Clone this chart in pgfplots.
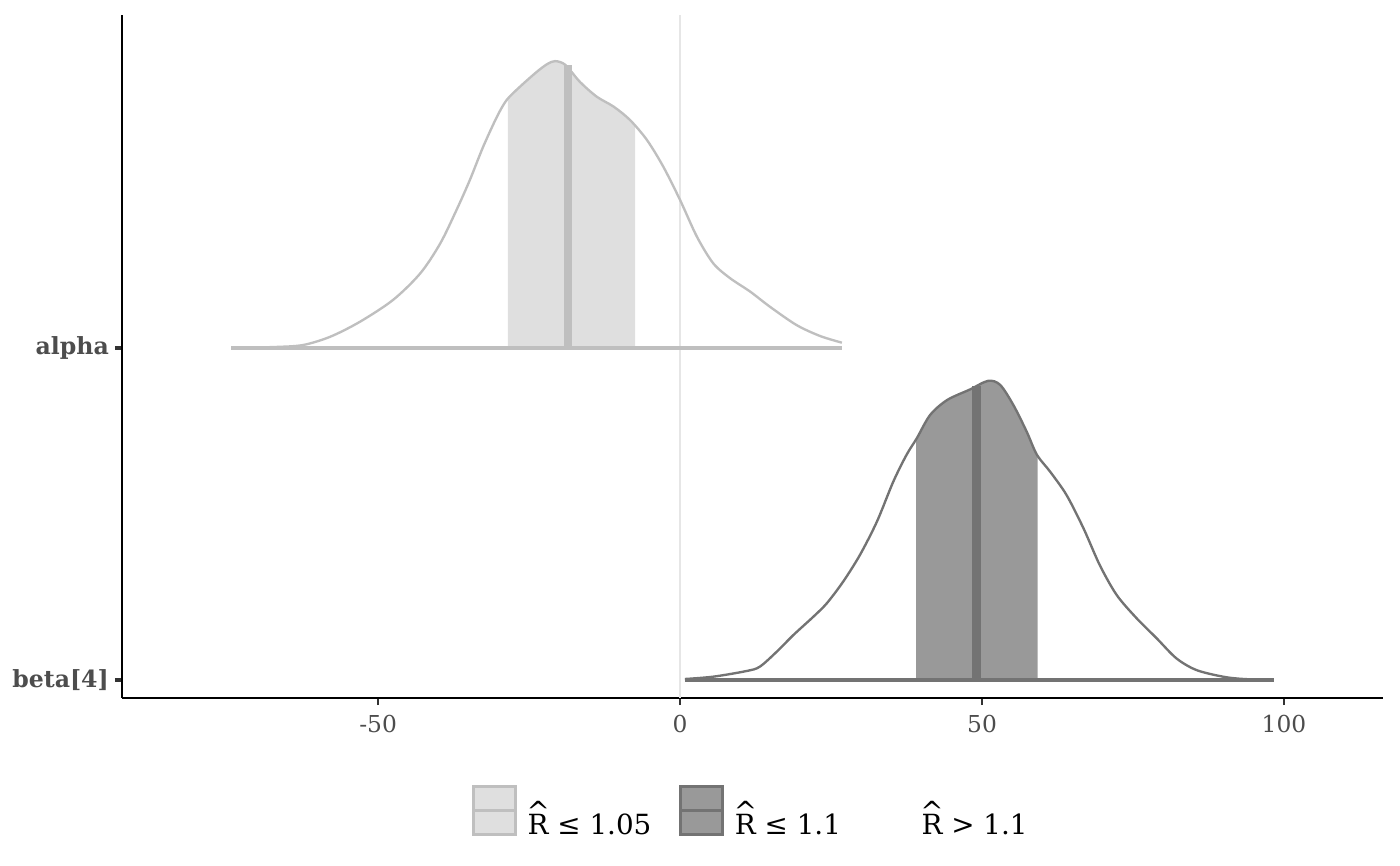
\documentclass[border=0pt]{standalone}
\usepackage{fontspec}
\setmainfont{DejaVu Serif}
\usepackage{pgfplots}
\usepackage{pgfplotstable}
\pgfplotsset{compat=1.18}
\usepgfplotslibrary{fillbetween}

\definecolor{afill}{HTML}{DFDFDF}
\definecolor{aline}{HTML}{BFBFBF}
\definecolor{bfill}{HTML}{999999}
\definecolor{bline}{HTML}{737373}
\definecolor{zeroline}{HTML}{E6E6E6}
\definecolor{ticktext}{HTML}{4D4D4D}
\definecolor{tickcol}{HTML}{333333}

\newcommand{\Rhat}{\leavevmode\ooalign{R\cr\hidewidth\raisebox{0.49em}{\textasciicircum}\hidewidth\cr}}

% density of alpha (height above its baseline)
\pgfplotstableread{
x y
-74.3 0.000
-67.0 0.003
-62.4 0.009
-57.9 0.034
-53.0 0.079
-47.5 0.145
-43.0 0.225
-39.7 0.315
-37.0 0.416
-34.8 0.506
-32.6 0.606
-30.3 0.697
-28.7 0.747
-26.5 0.787
-23.7 0.832
-22.0 0.855
-20.7 0.864
-19.0 0.853
-16.6 0.802
-13.8 0.757
-11.0 0.727
-8.3 0.687
-5.5 0.627
-2.8 0.547
0.0 0.446
2.8 0.335
5.5 0.255
8.3 0.210
11.6 0.170
14.9 0.124
19.3 0.069
23.2 0.036
26.8 0.016
}\alphadens

% density of beta[4]
\pgfplotstableread{
x y
0.8 0.003
5.5 0.010
11.0 0.027
13.2 0.040
16.0 0.085
18.8 0.136
22.1 0.191
24.3 0.231
27.0 0.296
29.8 0.377
32.6 0.477
35.3 0.597
37.5 0.678
39.2 0.728
41.4 0.798
44.2 0.843
48.0 0.875
51.0 0.901
53.0 0.889
55.2 0.828
57.4 0.748
59.1 0.678
61.3 0.627
64.0 0.557
66.8 0.457
69.5 0.346
72.3 0.256
75.6 0.186
78.9 0.126
82.2 0.065
85.5 0.030
89.9 0.010
93.3 0.003
98.3 0.000
}\betadens

\begin{document}
\begin{tikzpicture}
\begin{axis}[
  set layers,
  scale only axis,
  width=454pt, height=245.9pt,
  xmin=-92.4, xmax=116.4,
  ymin=0.9458, ymax=3.003,
  axis lines*=left,
  axis line style={black, line width=0.75pt},
  xtick={-50,0,50,100},
  xticklabels={-50,0,50,100},
  ytick={1,2},
  yticklabels={{beta[4]},alpha},
  tick align=outside,
  major tick length=2.6pt,
  x tick style={tickcol, line width=0.7pt},
  y tick style={tickcol, line width=1.3pt},
  xticklabel style={font=\fontsize{8.4}{9}\selectfont, text=ticktext},
  yticklabel style={font=\bfseries\fontsize{8.5}{9}\selectfont, text=ticktext, xshift=1.4pt},
  legend style={at={(0.5,0)}, anchor=north, yshift=-29.2pt, draw=none, fill=none,
    font=\fontsize{10}{12}\selectfont,
    /tikz/every even column/.append style={column sep=8pt},
    /tikz/every odd column/.append style={column sep=2pt}},
  legend columns=-1,
]
\addplot[zeroline, line width=0.8pt, forget plot] coordinates {(0,0.9458) (0,3.003)};

% alpha
\addplot[name path=acurve, aline, line width=0.85pt, smooth, forget plot]
  table[x=x, y expr=\thisrow{y}+2] {\alphadens};
\addplot[name path=abase, aline, line width=1.2pt, forget plot]
  coordinates {(-74.3,2) (26.8,2)};
\addplot[afill, forget plot] fill between[of=acurve and abase, soft clip={domain=-28.5:-7.45}];
\addplot[aline, line width=3pt, forget plot] coordinates {(-18.5,2) (-18.5,2.853)};

% beta[4]
\addplot[name path=bcurve, bline, line width=0.85pt, smooth, forget plot]
  table[x=x, y expr=\thisrow{y}+1] {\betadens};
\addplot[name path=bbase, bline, line width=1.2pt, forget plot]
  coordinates {(0.8,1) (98.3,1)};
\addplot[bfill, forget plot] fill between[of=bcurve and bbase, soft clip={domain=39.1:59.2}];
\addplot[bline, line width=3pt, forget plot] coordinates {(49.1,1) (49.1,1.885)};

\addlegendimage{legend image code/.code={
  \draw[fill=afill, draw=aline, line width=1.1pt] (0pt,-3pt) rectangle (15pt,14.3pt);
  \draw[aline, line width=1.1pt] (0pt,5.65pt) -- (15pt,5.65pt);}}
\addlegendentry{\Rhat{} ≤ 1.05}
\addlegendimage{legend image code/.code={
  \draw[fill=bfill, draw=bline, line width=1.1pt] (0pt,-3pt) rectangle (15pt,14.3pt);
  \draw[bline, line width=1.1pt] (0pt,5.65pt) -- (15pt,5.65pt);}}
\addlegendentry{\Rhat{} ≤ 1.1}
\addlegendimage{legend image code/.code={
  \path[draw=none, fill=none] (0pt,-3pt) rectangle (15pt,14.3pt);}}
\addlegendentry{\Rhat{} > 1.1}

\coordinate (bl) at (rel axis cs:0,0);
\coordinate (tr) at (rel axis cs:1,1);
\end{axis}
\pgfresetboundingbox
\path ([shift={(-43.92pt,-60.48pt)}]bl) rectangle ([shift={(6.12pt,5.4pt)}]tr);
\end{tikzpicture}
\end{document}
